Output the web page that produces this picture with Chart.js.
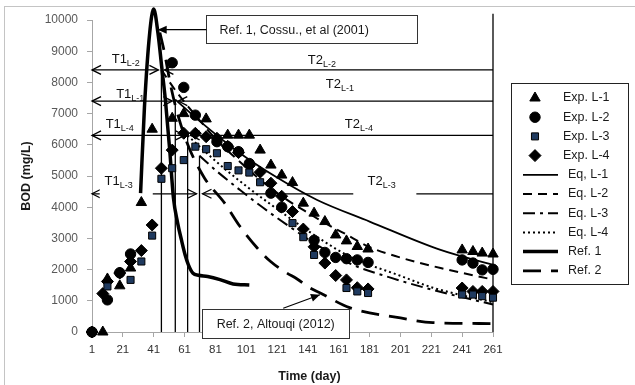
<!DOCTYPE html>
<html>
<head>
<meta charset="utf-8">
<script src="https://cdn.jsdelivr.net/npm/chart.js@4.4.1/dist/chart.umd.min.js"></script>
<style>
  html, body { margin: 0; padding: 0; background: #fff; overflow: hidden; }
  #wrap { position: relative; width: 635px; height: 385px; }
  #frame { position: absolute; left: 4px; top: 6px; width: 700px; height: 500px; border: 1px solid #c4c4c4; }
  canvas { position: absolute; left: 0; top: 0; }
</style>
</head>
<body>
<div id="wrap">
  <div id="frame"></div>
  <canvas id="bodChart" width="635" height="385"></canvas>
</div>
<script>
// Días de muestreo de los lixiviados (datos experimentales)
const sampleDays = [1, 8, 11, 19, 26, 33, 40, 46, 53, 60.5, 68, 75, 82, 89, 96, 103, 110, 117, 124, 131, 138, 145, 152, 159, 166, 173, 180, 241, 248, 254, 261];
const expL1 = [null, 0, 1700, 1480, 2050, 4150, 6500, null, 6850, 7000, null, 6830, null, 6310, 6310, 6310, 5830, 5350, 5030, 4790, 4130, 3810, 3540, 3110, 2920, 2740, 2660, 2630, 2580, 2530, 2500];
const expL2 = [0, null, 1030, 1900, 2500, null, null, null, 8630, 7840, 6950, null, 6100, 5940, 5780, 5400, null, 4450, 4000, null, null, 2940, 2550, 2390, 2350, 2310, 2230, 2310, 2210, 1990, 2010];
const expL3 = [null, null, 1460, null, 1670, 2260, 3090, 4910, 5250, 5510, 5940, 5860, 5730, 5320, 5180, 5110, 4800, null, null, 3490, 3040, 2470, null, null, 1410, 1300, 1250, 1200, 1200, 1150, 1100];
const expL4 = [0, 1230, 1620, 1890, 2260, 2610, 3430, 5250, 5830, 6370, 6370, 6260, 6210, 5950, 5750, 5330, 5120, 4770, 4350, 3860, 3300, 2730, 2210, 1810, 1670, 1420, 1380, 1410, 1300, 1300, 1300];

// Curvas de las ecuaciones
const eq1Days = [55, 71, 97, 121, 147, 181, 227, 261];
const eq1Bod = [7450, 6750, 5730, 4950, 4230, 3540, 2630, 2150];
const eq2Days = [46, 55, 68, 82, 97, 112, 127, 139, 151, 165, 181, 200, 227, 261];
const eq2Bod = [8400, 7750, 6950, 6150, 5450, 4800, 4250, 3880, 3520, 3150, 2720, 2400, 2050, 1680];
const eq3Days = [70.7, 82, 97, 112, 127, 145, 168, 194, 222, 261];
const eq3Bod = [5650, 5150, 4550, 3980, 3450, 2850, 2200, 1750, 1350, 880];
const eq4Days = [63, 75, 89, 103, 118, 135, 150, 168, 201, 222, 261];
const eq4Bod = [6300, 5750, 5150, 4600, 4050, 3450, 2950, 2420, 1800, 1420, 950];

// Curvas de referencia
const ref1Days = [32.5, 35, 38.4, 41, 43.8, 46.2, 48.6, 51.4, 53.8, 56.5, 59, 61.5, 63.5, 66.5, 70, 76, 84, 92.5, 103];
const ref1Bod = [4450, 7200, 9580, 10350, 9570, 8500, 7430, 5830, 4300, 3500, 2950, 2450, 2150, 1880, 1820, 1780, 1680, 1540, 1510];
const ref2Days = [45, 48, 52, 57, 64, 74, 87, 97, 108, 117, 127, 134, 142, 149, 168, 201, 222, 261];
const ref2Bod = [9600, 8950, 7900, 6900, 5900, 4930, 4130, 3380, 2700, 2250, 1900, 1700, 1420, 1250, 780, 450, 300, 270];

const xTicks = [1, 21, 41, 61, 81, 101, 121, 141, 161, 181, 201, 221, 241, 261];

// Intervalos T1 / T2 de cada lixiviado
const spanNames = ["L-2", "L-1", "L-4", "L-3"];
const spanLevels = [8400, 7400, 6300, 4430];
const splitDays = [46, 55, 63, 70.7];
const splitTops = [8400, 7450, 6300, 5650];
const t1LabelDays = [22.9, 25.8, 19, 18.3];
const t1LabelBod = [8780, 7630, 6670, 4870];
const t2LabelDays = [150, 161.7, 174, 188.8];
const t2LabelBod = [8745, 7970, 6670, 4840];

const FONT = "'Liberation Sans', Arial, sans-serif";

function pts(xs, ys) {
    return xs.map((d, i) => (ys[i] == null ? null : { x: d, y: ys[i] })).filter(Boolean);
}

function marker(label, data, style, radius, fill) {
    return {
        label: label,
        data: data,
        pointStyle: style,
        pointRadius: radius,
        pointHoverRadius: radius,
        backgroundColor: fill,
        borderColor: "#000",
        borderWidth: 1,
        showLine: false,
        clip: false,
    };
}

function curve(label, data, width, dash) {
    return {
        label: label,
        data: data,
        showLine: true,
        pointRadius: 0,
        borderColor: "#000",
        backgroundColor: "#000",
        borderWidth: width,
        borderDash: dash,
        cubicInterpolationMode: "monotone",
        fill: false,
        clip: false,
    };
}

const datasets = [
    marker("Exp. L-1", pts(sampleDays, expL1), "triangle", 6, "#000"),
    marker("Exp. L-2", pts(sampleDays, expL2), "circle", 5.2, "#000"),
    marker("Exp. L-3", pts(sampleDays, expL3), "rect", 5, "#1f3a5f"),
    marker("Exp. L-4", pts(sampleDays, expL4), "rectRot", 6, "#000"),
    curve("Eq, L-1", pts(eq1Days, eq1Bod), 1.8, []),
    curve("Eq. L-2", pts(eq2Days, eq2Bod), 2, [9, 6]),
    curve("Eq. L-3", pts(eq3Days, eq3Bod), 2, [12, 5, 3, 5]),
    curve("Eq. L-4", pts(eq4Days, eq4Bod), 2, [2, 3]),
    curve("Ref. 1", pts(ref1Days, ref1Bod), 3.5, []),
    curve("Ref. 2", pts(ref2Days, ref2Bod), 2.8, [18, 10]),
];

function seg(ctx, x0, y0, x1, y1) {
    ctx.beginPath();
    ctx.moveTo(x0, y0);
    ctx.lineTo(x1, y1);
    ctx.stroke();
}

// Punta de flecha abierta ("<" o ">")
function openHead(ctx, x, y, dir) {
    ctx.beginPath();
    ctx.moveTo(x - dir * 9, y - 4.5);
    ctx.lineTo(x, y);
    ctx.lineTo(x - dir * 9, y + 4.5);
    ctx.stroke();
}

// Flecha rellena desde (x0,y0) hacia (x1,y1)
function solidArrow(ctx, x0, y0, x1, y1) {
    seg(ctx, x0, y0, x1, y1);
    const a = Math.atan2(y1 - y0, x1 - x0);
    ctx.beginPath();
    ctx.moveTo(x1, y1);
    ctx.lineTo(x1 - 9 * Math.cos(a) + 4 * Math.sin(a), y1 - 9 * Math.sin(a) - 4 * Math.cos(a));
    ctx.lineTo(x1 - 9 * Math.cos(a) - 4 * Math.sin(a), y1 - 9 * Math.sin(a) + 4 * Math.cos(a));
    ctx.closePath();
    ctx.fill();
}

function tLabel(ctx, main, sub, cx, cy) {
    ctx.font = "13px " + FONT;
    const wMain = ctx.measureText(main).width;
    ctx.font = "9px " + FONT;
    const wSub = ctx.measureText(sub).width;
    const x0 = cx - (wMain + wSub) / 2;
    const base = cy + 4.5;
    ctx.textAlign = "left";
    ctx.textBaseline = "alphabetic";
    ctx.font = "13px " + FONT;
    ctx.fillText(main, x0, base);
    ctx.font = "9px " + FONT;
    ctx.fillText(sub, x0 + wMain, base + 3);
}

function drawMarker(ctx, style, x, y, r, fill) {
    ctx.fillStyle = fill;
    ctx.strokeStyle = "#000";
    ctx.lineWidth = 1;
    ctx.beginPath();
    if (style === "triangle") {
        ctx.moveTo(x, y - r);
        ctx.lineTo(x + r * Math.sin(2 * Math.PI / 3), y - r * Math.cos(2 * Math.PI / 3));
        ctx.lineTo(x - r * Math.sin(2 * Math.PI / 3), y - r * Math.cos(2 * Math.PI / 3));
    } else if (style === "circle") {
        ctx.arc(x, y, r, 0, Math.PI * 2);
    } else if (style === "rect") {
        const s = r * Math.SQRT1_2;
        ctx.rect(x - s, y - s, 2 * s, 2 * s);
    } else {
        ctx.moveTo(x, y - r);
        ctx.lineTo(x + r, y);
        ctx.lineTo(x, y + r);
        ctx.lineTo(x - r, y);
    }
    ctx.closePath();
    ctx.fill();
    ctx.stroke();
}

const annotations = {
    id: "annotations",
    beforeDatasetsDraw(chart) {
        const { ctx, scales: { x, y } } = chart;
        ctx.save();
        ctx.strokeStyle = "#000";
        ctx.fillStyle = "#000";
        ctx.lineWidth = 1.3;

        // líneas verticales de corte y línea final
        splitDays.forEach((d, i) => {
            const px = x.getPixelForValue(d);
            seg(ctx, px, y.getPixelForValue(0), px, y.getPixelForValue(splitTops[i]));
        });
        const xEnd = x.getPixelForValue(261);
        seg(ctx, xEnd, y.getPixelForValue(0), xEnd, y.getPixelForValue(10200));

        // flechas T1 y T2
        spanNames.forEach((n, i) => {
            const py = y.getPixelForValue(spanLevels[i]);
            const x0 = x.getPixelForValue(1);
            const xs = x.getPixelForValue(splitDays[i]);
            seg(ctx, x0, py, xs - 3, py);
            openHead(ctx, x0, py, -1);
            openHead(ctx, xs - 3, py, 1);
            seg(ctx, xs + 3, py, xEnd, py);
            openHead(ctx, xs + 3, py, -1);
        });

        // fondos blancos de las etiquetas que cortan la línea
        ctx.fillStyle = "#fff";
        [[6, 40.4], [170.4, 211.3]].forEach(([d0, d1]) => {
            const px0 = x.getPixelForValue(d0), px1 = x.getPixelForValue(d1);
            const py0 = y.getPixelForValue(5150), py1 = y.getPixelForValue(4250);
            ctx.fillRect(px0, py0, px1 - px0, py1 - py0);
        });

        ctx.fillStyle = "#111";
        spanNames.forEach((n, i) => {
            tLabel(ctx, "T1", n, x.getPixelForValue(t1LabelDays[i]), y.getPixelForValue(t1LabelBod[i]));
            tLabel(ctx, "T2", n, x.getPixelForValue(t2LabelDays[i]), y.getPixelForValue(t2LabelBod[i]));
        });
        ctx.restore();
    },
    afterDatasetsDraw(chart) {
        const { ctx, chartArea, scales: { x, y } } = chart;
        ctx.save();
        ctx.lineWidth = 1;
        ctx.strokeStyle = "#333";

        // cuadro Ref. 1
        const b1x0 = x.getPixelForValue(75.2), b1x1 = x.getPixelForValue(211.9);
        const b1y0 = y.getPixelForValue(10150), b1y1 = y.getPixelForValue(9250);
        ctx.fillStyle = "#fff";
        ctx.fillRect(b1x0, b1y0, b1x1 - b1x0, b1y1 - b1y0);
        ctx.strokeRect(Math.round(b1x0) + 0.5, Math.round(b1y0) + 0.5, Math.round(b1x1 - b1x0), Math.round(b1y1 - b1y0));
        ctx.fillStyle = "#1a1a1a";
        ctx.font = "12.5px " + FONT;
        ctx.textAlign = "left";
        ctx.textBaseline = "middle";
        ctx.fillText("Ref. 1, Cossu., et al (2001)", b1x0 + 13, (b1y0 + b1y1) / 2 + 1);
        ctx.fillStyle = "#000";
        ctx.strokeStyle = "#000";
        ctx.lineWidth = 1.2;
        solidArrow(ctx, b1x0, y.getPixelForValue(9690), x.getPixelForValue(43.6), y.getPixelForValue(9690));

        // cuadro Ref. 2
        const b2x0 = x.getPixelForValue(72.6), b2x1 = x.getPixelForValue(167.6);
        const b2y0 = y.getPixelForValue(736), b2y1 = y.getPixelForValue(-192);
        solidArrow(ctx, x.getPixelForValue(125), y.getPixelForValue(760), x.getPixelForValue(148.8), y.getPixelForValue(1194));
        ctx.fillStyle = "#fff";
        ctx.fillRect(b2x0, b2y0, b2x1 - b2x0, b2y1 - b2y0);
        ctx.strokeStyle = "#333";
        ctx.lineWidth = 1;
        ctx.strokeRect(Math.round(b2x0) + 0.5, Math.round(b2y0) + 0.5, Math.round(b2x1 - b2x0), Math.round(b2y1 - b2y0));
        ctx.fillStyle = "#1a1a1a";
        ctx.textAlign = "center";
        ctx.fillText("Ref. 2, Altouqi (2012)", (b2x0 + b2x1) / 2, (b2y0 + b2y1) / 2 + 1);

        // leyenda
        const lx = chartArea.right + 18, ly = 83;
        ctx.fillStyle = "#fff";
        ctx.fillRect(lx, ly, 117, 201);
        ctx.strokeStyle = "#222";
        ctx.strokeRect(lx + 0.5, ly + 0.5, 117, 201);
        chart.data.datasets.forEach((ds, i) => {
            const yy = ly + 15 + i * 19.2;
            if (ds.showLine) {
                ctx.save();
                ctx.strokeStyle = "#000";
                ctx.lineWidth = ds.borderWidth;
                ctx.setLineDash(ds.borderDash);
                seg(ctx, lx + 12, yy, lx + 47, yy);
                ctx.restore();
            } else {
                drawMarker(ctx, ds.pointStyle, lx + 24, yy, ds.pointRadius, ds.backgroundColor);
            }
            ctx.fillStyle = "#1a1a1a";
            ctx.font = "12.5px " + FONT;
            ctx.textAlign = "left";
            ctx.textBaseline = "middle";
            ctx.fillText(ds.label, lx + (ds.showLine ? 57 : 52), yy);
        });

        // títulos de los ejes
        ctx.fillStyle = "#1a1a1a";
        ctx.font = "bold 12.5px " + FONT;
        ctx.textAlign = "center";
        ctx.fillText("Time (day)", (chartArea.left + chartArea.right) / 2 + 17, 377);
        ctx.translate(27, (chartArea.top + chartArea.bottom) / 2);
        ctx.rotate(-Math.PI / 2);
        ctx.fillText("BOD (mg/L)", 0, 0);
        ctx.restore();
    },
};

const ctx = document.getElementById("bodChart").getContext("2d");
new Chart(ctx, {
    type: "scatter",
    data: { datasets: datasets },
    options: {
        responsive: false,
        animation: false,
        devicePixelRatio: 1,
        layout: { padding: { left: 20, top: 20, right: 142, bottom: 0 } },
        plugins: {
            legend: { display: false },
            tooltip: { enabled: false },
        },
        scales: {
            x: {
                type: "linear",
                min: 1,
                max: 261,
                afterBuildTicks: (scale) => {
                    scale.ticks = xTicks.map((v) => ({ value: v }));
                },
                afterFit: (scale) => {
                    scale.height = 53;
                },
                grid: { drawOnChartArea: false, drawTicks: true, tickLength: 5, color: "#a6a6a6" },
                border: { display: true, color: "#a6a6a6" },
                ticks: {
                    autoSkip: false,
                    maxRotation: 0,
                    padding: 6,
                    color: "#333",
                    font: { family: FONT, size: 11.5 },
                    callback: (v) => String(v),
                },
            },
            y: {
                min: 0,
                max: 10000,
                afterFit: (scale) => {
                    scale.width = 72;
                },
                grid: { drawOnChartArea: false, drawTicks: true, tickLength: 5, color: "#a6a6a6" },
                border: { display: true, color: "#a6a6a6" },
                ticks: {
                    stepSize: 1000,
                    padding: 9,
                    color: "#595959",
                    font: { family: FONT, size: 12 },
                    callback: (v) => String(v),
                },
            },
        },
    },
    plugins: [annotations],
});
</script>
</body>
</html>
